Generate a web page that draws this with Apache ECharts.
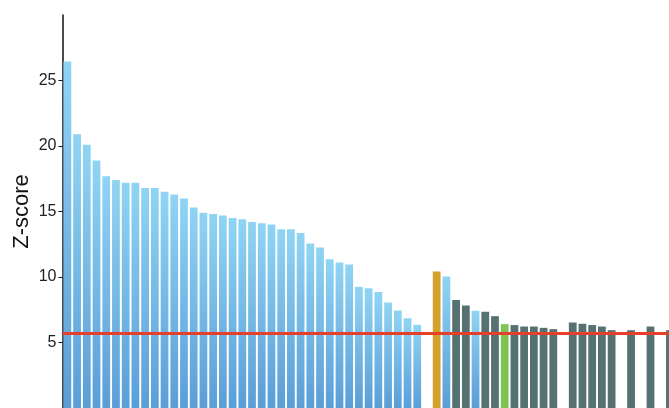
<!DOCTYPE html>
<html>
<head>
<meta charset="utf-8">
<script src="https://cdn.jsdelivr.net/npm/echarts@6/dist/echarts.min.js"></script>
<style>
  html, body { margin: 0; padding: 0; background: #ffffff; }
  #chart { width: 669px; height: 408px; }
</style>
</head>
<body>
<div id="chart"></div>
<script>
// Z-scores per slot; null marks an empty slot between groups
const zScores = [
  26.45, 20.9, 20.1, 18.9, 17.7, 17.4, 17.2, 17.2, 16.8, 16.8,
  16.5, 16.3, 16.0, 15.3, 14.9, 14.8, 14.7, 14.5, 14.4, 14.2,
  14.1, 14.0, 13.65, 13.65, 13.35, 12.55, 12.25, 11.35, 11.1, 10.95,
  9.25, 9.15, 8.85, 8.05, 7.45, 6.85, 6.35, null, 10.42, 10.04,
  8.24, 7.83, 7.42, 7.34, 7.01, 6.40, 6.33, 6.22, 6.22, 6.12,
  6.02, null, 6.53, 6.43, 6.33, 6.22, 5.94, null, 5.94, null,
  6.22, null, 5.94, null
];

// group of each slot: B = blue, G = gold, N = green, D = dark
const groups = [
  'B','B','B','B','B','B','B','B','B','B',
  'B','B','B','B','B','B','B','B','B','B',
  'B','B','B','B','B','B','B','B','B','B',
  'B','B','B','B','B','B','B','-','G','B',
  'D','D','B','D','D','N','D','D','D','D',
  'D','-','D','D','D','D','D','-','D','-',
  'D','-','D','-'
];

const categories = zScores.map((_, i) => 'S' + (i + 1));
const yTicks = [5, 10, 15, 20, 25];
const threshold = 5.7;

const blueGradient = new echarts.graphic.LinearGradient(0, 0, 0, 1, [
  { offset: 0, color: '#90d4f4' },
  { offset: 1, color: '#5a9ed8' }
]);
const groupColors = {
  B: blueGradient,
  G: '#d3a22e',
  N: '#7fc452',
  D: '#557171'
};

const barData = zScores.map((v, i) => ({
  value: v,
  itemStyle: { color: groupColors[groups[i]] || '#557171' }
}));

const chart = echarts.init(document.getElementById('chart'), null, { renderer: 'canvas' });
chart.setOption({
  animation: false,
  backgroundColor: '#ffffff',
  grid: {
    left: 62.5, top: 15, bottom: 0, width: 622,
    containLabel: false,
    outerBoundsMode: 'none'
  },
  xAxis: {
    type: 'category',
    data: categories,
    axisLine: { show: false },
    axisTick: { show: false },
    axisLabel: { show: false },
    splitLine: { show: false }
  },
  yAxis: {
    type: 'value',
    min: 0,
    max: 30,
    interval: 5,
    name: 'Z-score',
    nameLocation: 'middle',
    nameGap: 30,
    nameMoveOverlap: false,
    nameTextStyle: { fontFamily: 'Liberation Sans', fontSize: 22, color: '#111' },
    axisLine: { show: true, lineStyle: { color: '#111', width: 1.5 } },
    axisTick: { show: true, length: 4, customValues: yTicks, lineStyle: { color: '#111', width: 1 } },
    axisLabel: {
      customValues: yTicks,
      margin: 6,
      fontFamily: 'Liberation Sans',
      fontSize: 16,
      color: '#222'
    },
    splitLine: { show: false }
  },
  series: [{
    type: 'bar',
    data: barData,
    barCategoryGap: '20%',
    markLine: {
      silent: true,
      symbol: 'none',
      label: { show: false },
      lineStyle: { color: '#e5402b', width: 3, type: 'solid' },
      data: [{ yAxis: threshold }]
    }
  }]
});
</script>
</body>
</html>
